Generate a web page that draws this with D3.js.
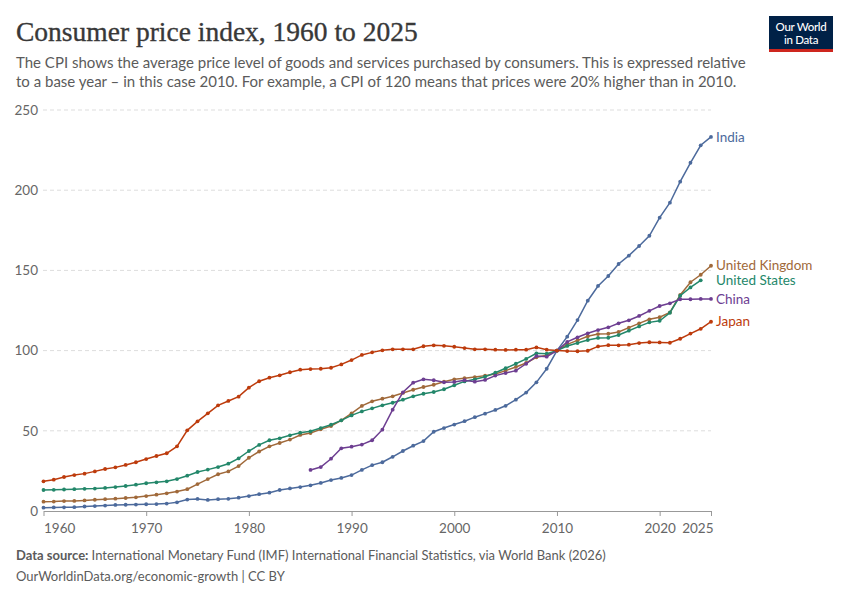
<!DOCTYPE html>
<html>
<head>
<meta charset="utf-8">
<script src="https://cdn.jsdelivr.net/npm/d3@7"></script>
<style>
  body { margin: 0; background: #fff; }
  svg { display: block; font-family: Lato, "Open Sans", sans-serif; }
</style>
</head>
<body>
<svg id="chart" width="850" height="600"></svg>
<script>
// years 1960..2025
const years = d3.range(1960, 2026);

const india = [
  2.1, 2.2, 2.3, 2.4, 2.8, 3.1, 3.4, 3.8, 3.9, 4.0,
  4.2, 4.3, 4.6, 5.4, 7.1, 7.5, 6.9, 7.4, 7.6, 8.3,
  9.3, 10.5, 11.4, 13.1, 14.1, 14.9, 16.0, 17.5, 19.3, 20.6,
  22.4, 25.6, 28.6, 30.4, 33.8, 37.4, 40.7, 43.6, 49.4, 51.7,
  53.9, 56.0, 58.5, 60.7, 63.0, 65.6, 69.4, 73.8, 80.2, 88.7,
  100, 108.7, 119.0, 131.1, 140.3, 146.5, 154.0, 159.2, 165.2, 171.6,
  182.9, 192.2, 205.3, 217.1, 228.0, 233.2
];
const japan = [
  18.5, 19.5, 21.2, 22.4, 23.3, 24.7, 26.2, 27.2, 28.7, 30.4,
  32.4, 34.3, 36.0, 40.3, 50.3, 55.9, 60.9, 65.9, 68.6, 71.3,
  76.9, 80.9, 83.1, 84.6, 86.5, 88.1, 88.5, 88.7, 89.3, 91.4,
  94.1, 97.3, 98.9, 100.2, 100.8, 100.8, 100.8, 102.7, 103.3, 103.0,
  102.4, 101.6, 100.8, 100.8, 100.6, 100.4, 100.6, 100.6, 102.0, 100.6,
  100, 99.7, 99.6, 99.9, 102.6, 103.4, 103.3, 103.7, 104.7, 105.2,
  105.1, 104.9, 107.4, 110.6, 113.6, 118.0
];
const unitedStates = [
  13.1, 13.2, 13.4, 13.6, 13.8, 14.0, 14.4, 14.9, 15.6, 16.4,
  17.3, 17.9, 18.5, 19.9, 22.0, 24.3, 25.8, 27.4, 29.5, 32.8,
  37.4, 41.2, 44.1, 45.3, 47.2, 48.8, 49.7, 51.7, 53.8, 56.5,
  59.6, 62.1, 64.0, 65.9, 67.5, 69.4, 71.5, 73.1, 74.2, 75.9,
  78.4, 80.8, 82.1, 83.7, 86.2, 89.0, 91.8, 94.8, 98.3, 98.1,
  100, 102.9, 104.7, 106.6, 107.9, 108.0, 109.7, 112.4, 115.1, 117.6,
  118.6, 123.6, 134.2, 139.4, 143.8, null
];
const unitedKingdom = [
  5.8, 5.9, 6.2, 6.3, 6.6, 7.0, 7.4, 7.7, 8.1, 8.5,
  9.3, 10.2, 11.0, 12.1, 13.6, 16.8, 19.9, 22.9, 24.7, 28.0,
  33.2, 37.1, 40.3, 42.4, 44.5, 47.4, 48.6, 50.9, 53.0, 56.5,
  60.9, 65.5, 68.4, 70.0, 71.5, 73.6, 75.6, 77.3, 78.7, 80.6,
  82.1, 82.8, 83.5, 84.4, 85.4, 87.5, 89.8, 92.3, 95.8, 97.1,
  100, 103.9, 106.4, 108.9, 110.3, 110.5, 111.6, 114.3, 117.0, 119.5,
  120.8, 123.8, 134.7, 142.6, 147.3, 152.9
];
const china = [
  null, null, null, null, null, null, null, null, null, null,
  null, null, null, null, null, null, null, null, null, null,
  null, null, null, null, null, null, 25.6, 27.4, 32.6, 39.1,
  40.1, 41.4, 44.1, 50.7, 63.2, 74.0, 80.0, 82.1, 81.5, 80.2,
  80.5, 81.5, 80.6, 81.7, 84.4, 86.0, 87.5, 91.8, 96.6, 96.2,
  100, 105.4, 108.3, 110.8, 112.8, 114.5, 117.0, 118.9, 121.6, 124.8,
  127.8, 129.5, 132.0, 132.0, 132.2, 132.2
];

const yTicks = [0, 50, 100, 150, 200, 250];
const xTicks = [1960, 1970, 1980, 1990, 2000, 2010, 2020, 2025];

const series = [
  { name: "India", values: india, color: "#4c6a9c" },
  { name: "United Kingdom", values: unitedKingdom, color: "#a0693a" },
  { name: "United States", values: unitedStates, color: "#23876a" },
  { name: "China", values: china, color: "#6d3e91" },
  { name: "Japan", values: japan, color: "#bd3b0c" }
];

const svg = d3.select("#chart");

// header
svg.append("text")
  .attr("x", 16).attr("y", 41)
  .attr("font-family", "'Liberation Serif', 'DejaVu Serif', serif")
  .attr("font-size", 27.5)
  .attr("fill", "#383838")
  .attr("stroke", "#383838")
  .attr("stroke-width", 0.35)
  .text("Consumer price index, 1960 to 2025");

const subtitle = [
  "The CPI shows the average price level of goods and services purchased by consumers. This is expressed relative",
  "to a base year \u2013 in this case 2010. For example, a CPI of 120 means that prices were 20% higher than in 2010."
];
svg.selectAll(".sub").data(subtitle).join("text")
  .attr("class", "sub")
  .attr("x", 16).attr("y", (d, i) => 68 + i * 19)
  .attr("font-size", 15)
  .attr("fill", "#5b5b5b")
  .text(d => d);

// logo
const logo = svg.append("g").attr("transform", "translate(769,16)");
logo.append("rect").attr("width", 64).attr("height", 36).attr("fill", "#002147");
logo.append("rect").attr("y", 33).attr("width", 64).attr("height", 3).attr("fill", "#ce261e");
logo.selectAll("text").data(["Our World", "in Data"]).join("text")
  .attr("x", 32).attr("y", (d, i) => 15 + i * 13)
  .attr("text-anchor", "middle")
  .attr("font-size", 11.5)
  .attr("font-weight", 500)
  .attr("fill", "#fff")
  .attr("letter-spacing", -0.3)
  .text(d => d);

// scales
const x = d3.scaleLinear().domain([1960, 2025]).range([43.5, 711]);
const y = d3.scaleLinear().domain([0, 250]).range([511, 110]);

// grid + y labels
const grid = svg.append("g");
grid.selectAll("line").data(yTicks.filter(d => d > 0)).join("line")
  .attr("x1", 43).attr("x2", 711)
  .attr("y1", d => y(d)).attr("y2", d => y(d))
  .attr("stroke", "#dddddd")
  .attr("stroke-dasharray", "4,3");
grid.selectAll("text").data(yTicks).join("text")
  .attr("x", 38).attr("y", d => y(d))
  .attr("dy", "0.35em")
  .attr("text-anchor", "end")
  .attr("font-size", 13.5)
  .attr("fill", "#666")
  .text(d => d);

// x axis
const xAxis = svg.append("g").attr("transform", "translate(0,511)")
  .call(d3.axisBottom(x).tickValues(xTicks).tickFormat(d3.format("d")).tickSize(5).tickSizeOuter(0));
xAxis.select(".domain").attr("stroke", "#999");
xAxis.selectAll(".tick line").attr("stroke", "#999");
xAxis.selectAll(".tick text")
  .attr("font-family", "Lato, sans-serif")
  .attr("font-size", 13.5)
  .attr("fill", "#666")
  .attr("dy", "1.05em")
  .attr("text-anchor", d => d === 1960 ? "start" : d === 2025 ? "end" : "middle")
  .attr("dx", d => d === 2025 ? 2 : 0);

// lines + points
const line = d3.line()
  .defined(d => d.v != null)
  .x(d => x(d.year))
  .y(d => y(d.v));

const plot = svg.append("g");
series.forEach(s => {
  const pts = years.map((yr, i) => ({ year: yr, v: s.values[i] }));
  const g = plot.append("g");
  g.append("path").datum(pts)
    .attr("d", line)
    .attr("fill", "none")
    .attr("stroke", s.color)
    .attr("stroke-width", 1.5);
  g.selectAll("circle").data(pts.filter(d => d.v != null)).join("circle")
    .attr("cx", d => x(d.year))
    .attr("cy", d => y(d.v))
    .attr("r", 1.9)
    .attr("fill", s.color);
});

// end labels, nudged apart so they don't overlap
const labels = series.map(s => {
  const last = s.values.filter(v => v != null).slice(-1)[0];
  return { name: s.name, color: s.color, ty: y(last) };
}).sort((a, b) => a.ty - b.ty);
for (let i = 1; i < labels.length; i++) {
  if (labels[i].ty - labels[i - 1].ty < 15) labels[i].ty = labels[i - 1].ty + 15;
}
svg.selectAll(".lbl").data(labels).join("text")
  .attr("class", "lbl")
  .attr("x", 716).attr("y", d => d.ty)
  .attr("dy", "0.35em")
  .attr("font-size", 13.5)
  .attr("fill", d => d.color)
  .text(d => d.name);

// footer
const src = svg.append("text").attr("x", 16).attr("y", 560)
  .attr("font-size", 13).attr("fill", "#5b5b5b");
src.append("tspan").attr("font-weight", 700).text("Data source: ");
src.append("tspan").text("International Monetary Fund (IMF) International Financial Statistics, via World Bank (2026)");
svg.append("text").attr("x", 16).attr("y", 581)
  .attr("font-size", 13).attr("fill", "#5b5b5b")
  .text("OurWorldinData.org/economic-growth | CC BY");
</script>
</body>
</html>
